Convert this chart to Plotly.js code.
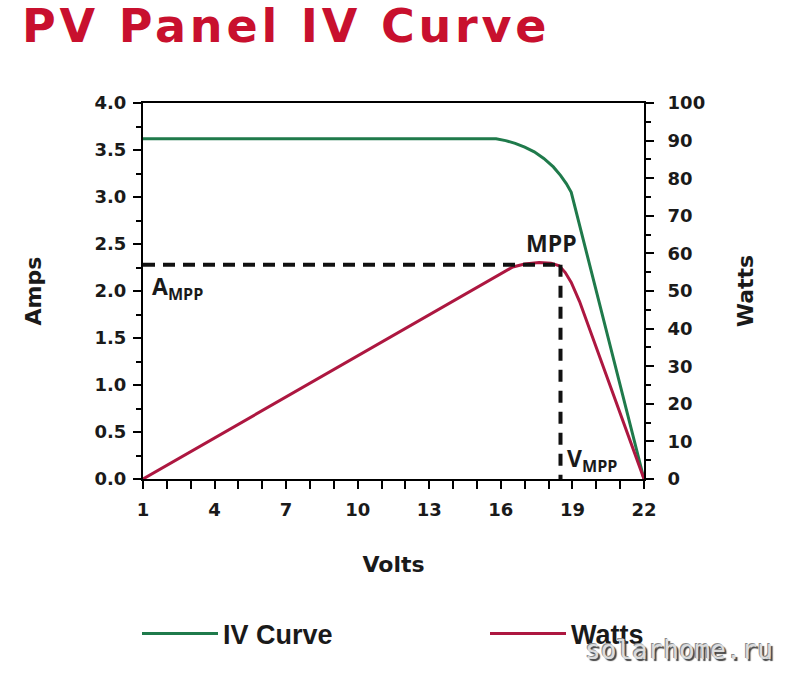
<!DOCTYPE html>
<html>
<head>
<meta charset="utf-8">
<script src="https://cdn.plot.ly/plotly-3.0.1.min.js"></script>
<style>
  html, body { margin: 0; padding: 0; background: #ffffff; }
  #chart { width: 786px; height: 677px; }
  .gtitle { letter-spacing: 3.8px; }
</style>
</head>
<body>
<div id="chart"></div>
<script>
// ---- data ----
const ivVolts  = [1, 15.8, 16.2, 16.6, 17.0, 17.4, 17.8, 18.2, 18.5, 18.75, 18.95, 22];
const ivAmps   = [3.62, 3.62, 3.60, 3.57, 3.53, 3.48, 3.41, 3.32, 3.23, 3.14, 3.05, 0];

const wVolts   = [1, 13.5, 16.0, 16.5, 17.0, 17.6, 18.1, 18.45, 18.7, 18.95, 19.3, 22];
const watts    = [0, 45.6, 54.8, 56.4, 57.2, 57.6, 57.4, 56.7, 54.9, 52.3, 47.2, 0];

const mppVolts = 18.5;
const mppAmps  = 2.28;

const xTickVals = [1, 4, 7, 10, 13, 16, 19, 22];
const yLeftTicks = [0, 0.5, 1.0, 1.5, 2.0, 2.5, 3.0, 3.5, 4.0];
const yRightTicks = [0, 10, 20, 30, 40, 50, 60, 70, 80, 90, 100];

const GREEN = '#1f7a4b';
const RED = '#ad1740';
const INK = '#1a1a1a';
const tickFont = {family: 'DejaVu Sans', size: 18, weight: 'bold', color: INK};
const axTitleFont = {family: 'DejaVu Sans', size: 22, weight: 'bold', color: INK};
const noteFont = {family: 'Open Sans, Liberation Sans', size: 23, weight: 'bold', color: INK};
const legendFont = {family: 'Liberation Sans', size: 27, weight: 'bold', color: INK};

const traces = [
  {
    x: ivVolts, y: ivAmps, name: 'IV Curve', type: 'scatter', mode: 'lines',
    line: {color: GREEN, width: 3}, yaxis: 'y', legend: 'legend'
  },
  {
    x: wVolts, y: watts, name: 'Watts', type: 'scatter', mode: 'lines',
    line: {color: RED, width: 3}, yaxis: 'y2', legend: 'legend2'
  }
];

const legendBase = {
  orientation: 'h',
  xref: 'container', xanchor: 'left',
  yref: 'container', y: 1 - 634 / 677, yanchor: 'middle',
  font: legendFont, itemwidth: 76,
  bgcolor: 'rgba(0,0,0,0)', borderwidth: 0
};

const layout = {
  width: 786, height: 677,
  margin: {l: 143, r: 142, t: 103, b: 198},
  paper_bgcolor: '#ffffff', plot_bgcolor: '#ffffff',
  font: {family: 'DejaVu Sans', color: INK},
  title: {
    text: 'PV Panel IV Curve',
    font: {family: 'DejaVu Sans', size: 46, weight: 'bold', color: '#c8102e'},
    xref: 'container', x: 22 / 786, xanchor: 'left',
    yref: 'container', y: 1 - 26 / 677, yanchor: 'middle'
  },
  xaxis: {
    range: [1, 22], tickmode: 'array', tickvals: xTickVals,
    ticks: 'outside', ticklen: 8, tickwidth: 2, tickcolor: '#000',
    minor: {dtick: 1, tick0: 1, ticks: 'outside', ticklen: 8, tickwidth: 2, tickcolor: '#000', showgrid: false},
    showline: true, linewidth: 2, linecolor: '#000', mirror: true,
    showgrid: false, zeroline: false,
    tickfont: tickFont, ticklabelstandoff: 5,
    title: {text: 'Volts', font: axTitleFont, standoff: 38}
  },
  yaxis: {
    range: [0, 4], tickmode: 'array', tickvals: yLeftTicks, tickformat: '.1f',
    ticks: 'outside', ticklen: 8, tickwidth: 2, tickcolor: '#000',
    minor: {dtick: 0.25, tick0: 0, ticks: 'outside', ticklen: 5, tickwidth: 2, tickcolor: '#000', showgrid: false},
    showline: true, linewidth: 2, linecolor: '#000',
    showgrid: false, zeroline: false,
    tickfont: tickFont, ticklabelstandoff: 3,
    title: {text: 'Amps', font: axTitleFont, standoff: 47}
  },
  yaxis2: {
    range: [0, 100], overlaying: 'y', side: 'right',
    tickmode: 'array', tickvals: yRightTicks,
    ticks: 'outside', ticklen: 8, tickwidth: 2, tickcolor: '#000',
    minor: {dtick: 5, tick0: 0, ticks: 'outside', ticklen: 5, tickwidth: 2, tickcolor: '#000', showgrid: false},
    showline: true, linewidth: 2, linecolor: '#000',
    showgrid: false, zeroline: false,
    tickfont: tickFont, ticklabelstandoff: 10,
    title: {text: 'Watts', font: axTitleFont, standoff: 33}
  },
  showlegend: true,
  legend: Object.assign({}, legendBase, {x: 137 / 786}),
  legend2: Object.assign({}, legendBase, {x: 485 / 786}),
  shapes: [
    {type: 'line', xref: 'x', yref: 'y', x0: 1, x1: mppVolts, y0: mppAmps, y1: mppAmps,
     line: {color: '#111', width: 4, dash: '12px,8px'}},
    {type: 'line', xref: 'x', yref: 'y', x0: mppVolts, x1: mppVolts, y0: mppAmps, y1: 0,
     line: {color: '#111', width: 4, dash: '12px,9px'}}
  ],
  annotations: [
    {text: 'MPP', xref: 'x', yref: 'y', x: mppVolts, y: mppAmps, xanchor: 'center', yanchor: 'bottom',
     xshift: -9, yshift: 4, showarrow: false, font: noteFont},
    {text: 'A<sub>MPP</sub>', xref: 'x', yref: 'y', x: 1, y: mppAmps, xanchor: 'left', yanchor: 'top',
     xshift: 7, yshift: -3, showarrow: false, font: noteFont},
    {text: 'V<sub>MPP</sub>', xref: 'x', yref: 'y', x: mppVolts, y: 0, xanchor: 'left', yanchor: 'bottom',
     xshift: 4, yshift: 0, showarrow: false, font: noteFont},
    {text: 'solarhome.ru', xref: 'paper', yref: 'paper', x: (679 - 143) / 501, y: (479 - 650) / 376,
     xanchor: 'center', yanchor: 'middle', showarrow: false,
     font: {family: 'DejaVu Sans Mono', size: 26, color: '#dcdcdc',
            shadow: '-1px -1px 0 #8a8a8a, 2px 2px 1px #444444'}}
  ]
};

Plotly.newPlot('chart', traces, layout, {displayModeBar: false, staticPlot: true});
</script>
</body>
</html>
